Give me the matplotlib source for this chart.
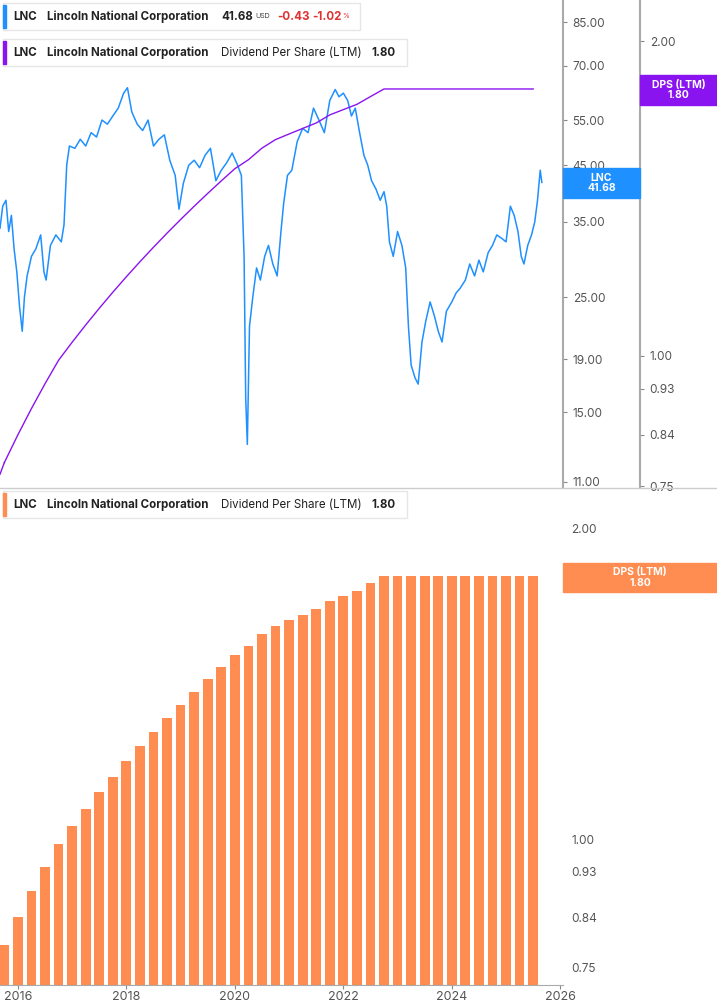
import numpy as np
import matplotlib.pyplot as plt
from matplotlib.ticker import FixedLocator, NullLocator, FixedFormatter

plt.rcParams['font.family'] = 'Inter'

# price (approximate)
price_dates = [2015.67, 2015.72, 2015.78, 2015.83, 2015.88, 2015.93, 2015.98, 2016.03, 2016.08, 2016.12,
               2016.17, 2016.25, 2016.33, 2016.42, 2016.48, 2016.52, 2016.6, 2016.7, 2016.8, 2016.85,
               2016.9, 2016.95, 2017.05, 2017.15, 2017.25, 2017.35, 2017.45, 2017.55, 2017.65, 2017.75,
               2017.85, 2017.95, 2018.02, 2018.1, 2018.2, 2018.3, 2018.4, 2018.5, 2018.6, 2018.7,
               2018.8, 2018.9, 2018.97, 2019.05, 2019.15, 2019.25, 2019.35, 2019.45, 2019.55, 2019.65,
               2019.75, 2019.85, 2019.95, 2020.05, 2020.12, 2020.17, 2020.2, 2020.23, 2020.27, 2020.33,
               2020.4, 2020.47, 2020.55, 2020.62, 2020.7, 2020.78, 2020.85, 2020.9, 2020.97, 2021.05,
               2021.15, 2021.25, 2021.35, 2021.45, 2021.55, 2021.65, 2021.75, 2021.85, 2021.92, 2022.0,
               2022.08, 2022.15, 2022.22, 2022.3, 2022.38, 2022.45, 2022.52, 2022.6, 2022.68, 2022.75,
               2022.8, 2022.85, 2022.92, 2023.0, 2023.08, 2023.15, 2023.2, 2023.25, 2023.32, 2023.38,
               2023.45, 2023.52, 2023.6, 2023.68, 2023.75, 2023.82, 2023.9, 2024.0, 2024.08, 2024.15,
               2024.25, 2024.33, 2024.42, 2024.5, 2024.58, 2024.67, 2024.75, 2024.83, 2024.92, 2025.0,
               2025.08, 2025.15, 2025.22, 2025.28, 2025.33, 2025.4, 2025.47, 2025.53, 2025.58, 2025.63,
               2025.66]
price = [34.0, 37.5, 38.5, 33.5, 36.0, 31.0, 28.0, 24.0, 21.5, 25.0,
         27.5, 30.0, 31.0, 33.0, 28.0, 27.0, 31.5, 33.0, 32.0, 34.5,
         45.0, 49.0, 48.5, 50.5, 49.0, 52.0, 51.0, 55.0, 54.0, 56.0,
         58.0, 62.0, 63.5, 57.0, 54.0, 52.5, 55.0, 49.0, 50.5, 51.5,
         46.0, 43.0, 37.0, 41.5, 45.0, 46.0, 44.5, 47.0, 48.5, 42.0,
         44.0, 45.5, 47.5, 45.0, 43.0, 30.0, 16.0, 13.0, 22.0, 25.0,
         28.5, 27.0, 30.0, 31.5, 29.0, 27.5, 33.5, 38.0, 43.0, 44.0,
         50.0, 53.0, 52.0, 58.0, 55.0, 52.0, 60.0, 63.0, 61.0, 62.0,
         60.0, 56.0, 58.0, 52.0, 47.0, 45.0, 42.0, 40.5, 38.5, 40.0,
         37.5, 32.0, 30.0, 33.5, 31.5, 28.5, 22.0, 18.5, 17.5, 17.0,
         20.5, 22.5, 24.5, 23.0, 21.5, 20.5, 23.5, 24.5, 25.5, 26.0,
         27.0, 29.0, 27.5, 29.5, 28.0, 30.5, 31.5, 33.0, 32.5, 32.0,
         37.5, 36.0, 33.5, 30.0, 29.0, 31.5, 33.0, 35.0, 38.5, 44.0,
         41.68]

# dividend per share (LTM), quarterly
dps_dates = [2015.75 + 0.25 * i for i in range(40)]
dps = [0.79, 0.84, 0.89, 0.94, 0.99, 1.03, 1.07, 1.11, 1.15, 1.19,
       1.23, 1.27, 1.31, 1.35, 1.39, 1.43, 1.47, 1.51, 1.54, 1.58,
       1.61, 1.63, 1.65, 1.67, 1.70, 1.72, 1.74, 1.77, 1.80, 1.80,
       1.80, 1.80, 1.80, 1.80, 1.80, 1.80, 1.80, 1.80, 1.80, 1.80]

price_ticks = [11, 15, 19, 25, 35, 45, 55, 70, 85]
dps_ticks = [0.75, 0.84, 0.93, 1.00, 2.00]
year_ticks = list(range(2016, 2027, 2))

BLUE = '#1e90ff'
PURPLE = '#8a14f0'
ORANGE = '#ff8c50'
GREY = '#555555'

W, H = 717, 1005
fig = plt.figure(figsize=(W / 100, H / 100), dpi=100)

def frac(x0, y0, x1, y1):
    return [x0 / W, 1 - y1 / H, (x1 - x0) / W, (y1 - y0) / H]

# top panel: price
ax1 = fig.add_axes(frac(0, 0, 563, 488))
ax1.plot(price_dates, price, color=BLUE, lw=1.1)
ax1.set_yscale('log')
ax1.set_ylim(10.71, 93.8)
ax1.set_xlim(2015.67, 2026.05)
ax1.yaxis.tick_right()
ax1.yaxis.set_major_locator(FixedLocator(price_ticks))
ax1.yaxis.set_major_formatter(FixedFormatter([f'{v:.2f}' for v in price_ticks]))
ax1.yaxis.set_minor_locator(NullLocator())
ax1.tick_params(axis='y', direction='out', length=3, colors='#888888', labelcolor=GREY, labelsize=8.5, pad=4)
ax1.set_xticks([])
for s in ['top', 'left', 'bottom']:
    ax1.spines[s].set_visible(False)
ax1.spines['right'].set_color('#aaaaaa')
ax1.spines['right'].set_linewidth(1.5)

# top panel: DPS line on second axis
ax2 = fig.add_axes(frac(0, 0, 640, 488), facecolor='none')
ax2.plot(dps_dates, dps, color=PURPLE, lw=1.0)
ax2.plot([2015.67, dps_dates[0]], [0.77, dps[0]], color=PURPLE, lw=1.0)
ax2.set_yscale('log')
ax2.set_ylim(0.747, 2.19)
ax2.set_xlim(2015.67, 2015.67 + (2026.05 - 2015.67) * 640 / 563)
ax2.yaxis.tick_right()
ax2.yaxis.set_major_locator(FixedLocator(dps_ticks))
ax2.yaxis.set_major_formatter(FixedFormatter([f'{v:.2f}' for v in dps_ticks]))
ax2.yaxis.set_minor_locator(NullLocator())
ax2.tick_params(axis='y', direction='out', length=3, colors='#888888', labelcolor=GREY, labelsize=8.5, pad=4)
ax2.set_xticks([])
for s in ['top', 'left', 'bottom']:
    ax2.spines[s].set_visible(False)
ax2.spines['right'].set_color('#aaaaaa')
ax2.spines['right'].set_linewidth(1.5)

# bottom panel: DPS bars
ax3 = fig.add_axes(frac(0, 488, 563, 985))
base = 0.5
ax3.bar(dps_dates, [v - base for v in dps], width=0.18, color=ORANGE, bottom=base)
ax3.set_yscale('log')
ax3.set_ylim(0.722, 2.19)
ax3.set_xlim(2015.67, 2026.05)
ax3.yaxis.tick_right()
ax3.yaxis.set_major_locator(FixedLocator(dps_ticks))
ax3.yaxis.set_major_formatter(FixedFormatter([f'{v:.2f}' for v in dps_ticks]))
ax3.yaxis.set_minor_locator(NullLocator())
ax3.tick_params(axis='y', length=0, labelcolor=GREY, labelsize=8.5, pad=6)
ax3.set_xticks(year_ticks)
ax3.tick_params(axis='x', direction='out', length=3, colors='#888888', labelcolor=GREY, labelsize=9, pad=1)
for s in ['top', 'left', 'right']:
    ax3.spines[s].set_visible(False)
ax3.spines['bottom'].set_color('#aaaaaa')

# separator
fig.add_artist(plt.Line2D([0, 1], [1 - 488 / H, 1 - 488 / H], color='#cccccc', lw=1))

# value badges
def badge(x0, y0, x1, y1, color, text):
    fig.add_artist(plt.Rectangle((x0 / W, 1 - y1 / H), (x1 - x0) / W, (y1 - y0) / H, color=color))
    fig.text((x0 + x1) / 2 / W, 1 - (y0 + y1) / 2 / H, text, color='white', ha='center', va='center',
             fontsize=7.5, fontweight='bold', linespacing=1.0)

badge(563, 168, 640, 198, BLUE, 'LNC\n41.68')
badge(640, 75, 717, 105, PURPLE, 'DPS (LTM)\n1.80')
badge(563, 563, 717, 592, ORANGE, 'DPS (LTM)\n1.80')

# legend boxes
def legend_box(y0, x1, color, parts):
    fig.add_artist(plt.Rectangle((3 / W, 1 - (y0 + 27) / H), (x1 - 3) / W, 27 / H, facecolor='white',
                                 edgecolor='#e6e6e6', lw=1, zorder=5))
    fig.add_artist(plt.Rectangle((3 / W, 1 - (y0 + 25) / H), 3 / W, 23 / H, color=color, zorder=6))
    for x, txt, c, fs, fw in parts:
        fig.text(x / W, 1 - (y0 + 13.5) / H, txt, color=c, fontsize=fs, fontweight=fw, va='center', zorder=7)

legend_box(3, 360, BLUE, [(13, 'LNC', '#222222', 8.3, 'bold'),
                          (47, 'Lincoln National Corporation', '#222222', 8.3, 'bold'),
                          (221, '41.68', '#222222', 8.3, 'bold'),
                          (255, 'USD', '#444444', 5, 'normal'),
                          (277, '-0.43', '#e03030', 8.3, 'bold'),
                          (312, '-1.02', '#e03030', 8.3, 'bold'),
                          (342, '%', '#e03030', 5, 'normal')])
legend_box(39, 407, PURPLE, [(13, 'LNC', '#222222', 8.3, 'bold'),
                             (47, 'Lincoln National Corporation', '#222222', 8.3, 'bold'),
                             (221, 'Dividend Per Share (LTM)', '#222222', 8.3, 'normal'),
                             (371, '1.80', '#222222', 8.3, 'bold')])
legend_box(491, 407, ORANGE, [(13, 'LNC', '#222222', 8.3, 'bold'),
                              (47, 'Lincoln National Corporation', '#222222', 8.3, 'bold'),
                              (221, 'Dividend Per Share (LTM)', '#222222', 8.3, 'normal'),
                              (371, '1.80', '#222222', 8.3, 'bold')])

fig.savefig('out.png', dpi=100)
